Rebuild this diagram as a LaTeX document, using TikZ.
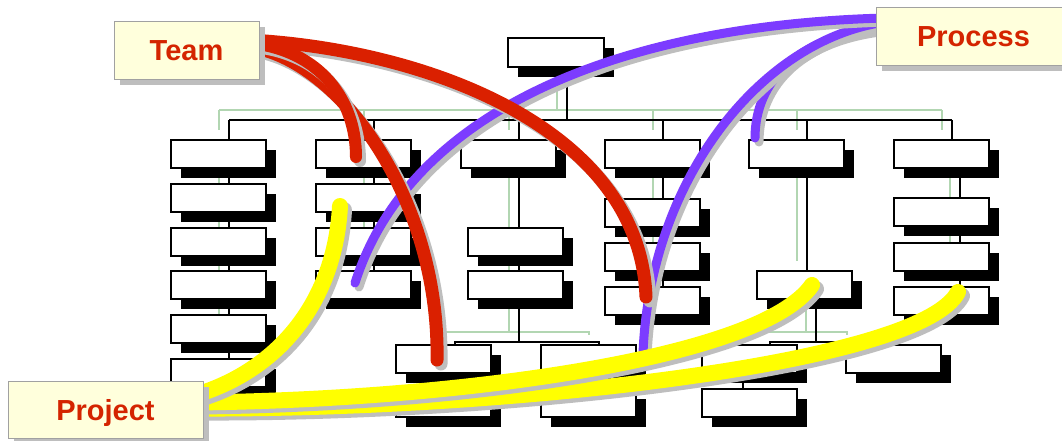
\documentclass[tikz,border=0pt]{standalone}
\usepackage{fontspec}
\setmainfont{Liberation Sans}
\usetikzlibrary{shadows}
\definecolor{tred}{RGB}{212,36,0}
\definecolor{cred}{RGB}{218,32,0}
\definecolor{cpurple}{RGB}{124,60,255}
\definecolor{cyellow}{RGB}{255,255,0}
\definecolor{cgray}{RGB}{190,190,190}
\definecolor{lgreen}{RGB}{178,214,178}
\definecolor{lbl}{RGB}{255,255,220}
\pgfdeclarelayer{bgg}
\pgfdeclarelayer{bgb}
\pgfdeclarelayer{fg}
\pgfsetlayers{bgg,bgb,main,fg}
\newcommand\tl[1]{%
  \begin{pgfonlayer}{bgg}\draw[gline, transform canvas={shift={(-10pt,10pt)}}] #1;\end{pgfonlayer}%
  \begin{pgfonlayer}{bgb}\draw[tline] #1;\end{pgfonlayer}}
\newcommand\wirepath[3]{%
  \draw[wire=#2, cgray, transform canvas={shift={(4pt,-4pt)}}] #3;
  \draw[wire=#2, #1] #3;}
\begin{document}
\begin{tikzpicture}[x=1pt,y=-1pt,
  orgbox/.style={draw=black, line width=1.4pt, fill=white, minimum width=95pt,
    minimum height=28pt, anchor=north west, inner sep=0pt, outer sep=0pt,
    general shadow={fill=black, shadow xshift=10pt, shadow yshift=-10pt}},
  tag/.style={draw=cgray!85!black, line width=0.8pt, fill=lbl, minimum height=58pt,
    inner sep=0pt, outer sep=0pt, text=tred, font=\bfseries\fontsize{29}{30}\selectfont,
    text height=21pt, text depth=0pt,
    general shadow={fill=cgray, shadow xshift=6pt, shadow yshift=-6pt}},
  tline/.style={line width=1.4pt, black},
  gline/.style={line width=1.1pt, lgreen},
  wire/.style={line cap=round, line width=#1},
]
\useasboundingbox (0,0) rectangle (1062,441);
\clip (0,0) rectangle (1062,441);

% ---- org chart boxes ----
\node[orgbox, minimum width=96pt, minimum height=29pt] (r) at (508,38) {};
\node[orgbox] (c1) at (171,140) {};
\node[orgbox] (c2) at (316,140) {};
\node[orgbox] (c3) at (461,140) {};
\node[orgbox] (c4) at (605,140) {};
\node[orgbox] (c5) at (749,140) {};
\node[orgbox] (c6) at (894,140) {};
% column 1
\node[orgbox] (c1b) at (171,184) {};
\node[orgbox] (c1c) at (171,228) {};
\node[orgbox] (c1d) at (171,271) {};
\node[orgbox] (c1e) at (171,315) {};
\node[orgbox] (c1f) at (171,359) {};
% column 2
\node[orgbox] (c2b) at (316,184) {};
\node[orgbox] (c2c) at (316,228) {};
\node[orgbox] (c2d) at (316,271) {};
% column 3
\node[orgbox] (c3b) at (468,228) {};
\node[orgbox] (c3c) at (468,271) {};
\node[orgbox] (b3a) at (396,345) {};
\node[orgbox] (b3b) at (541,345) {};
\node[orgbox] (b3c) at (396,389) {};
\node[orgbox] (b3d) at (541,389) {};
% column 4
\node[orgbox] (c4b) at (605,199) {};
\node[orgbox] (c4c) at (605,243) {};
\node[orgbox] (c4d) at (605,287) {};
% column 5
\node[orgbox] (c5a) at (757,271) {};
\node[orgbox] (b5a) at (702,345) {};
\node[orgbox] (b5b) at (702,389) {};
\node[orgbox] (b5c) at (846,345) {};
% column 6
\node[orgbox] (c6b) at (894,198) {};
\node[orgbox] (c6c) at (894,243) {};
\node[orgbox] (c6d) at (894,287) {};

% ---- tree lines ----
\tl{([xshift=59pt]r.south west) -- ([xshift=59pt]r.south west |- 0,120)}
\tl{([xshift=58pt,yshift=20pt]c1.north west) -- ([xshift=58pt,yshift=20pt]c6.north west)}
\foreach \c in {c1,c2,c3,c4,c5,c6}{
  \tl{([xshift=58pt,yshift=20pt]\c.north west) -- ([xshift=58pt]\c.north west)}
}
\tl{([xshift=58pt]c1.south west) -- ([xshift=58pt]c1f.north west)}
\tl{([xshift=58pt]c2.south west) -- ([xshift=58pt]c2d.north west)}
\tl{([xshift=58pt]c3.south west) -- ([xshift=58pt,yshift=3pt]c3.south west |- b3a.north)}
\tl{([xshift=59pt]b3a.north west) -- ([xshift=59pt,yshift=3pt]b3a.north west) -- ([xshift=58pt,yshift=3pt]b3b.north west) -- ([xshift=58pt]b3b.north west)}
\tl{([xshift=59pt]b3a.south west) -- ([xshift=59pt]b3c.north west)}
\tl{([xshift=58pt]b3b.south west) -- ([xshift=58pt]b3d.north west)}
\tl{([xshift=58pt]c4.south west) -- ([xshift=58pt]c4d.north west)}
\tl{([xshift=58pt]c5.south west) -- ([xshift=58pt]c5a.north west -| c5.south west)}
\tl{([xshift=59pt]c5a.south west) -- ([xshift=59pt,yshift=3pt]c5a.south west |- b5a.north)}
\tl{([xshift=68pt]b5a.north west) -- ([xshift=68pt,yshift=3pt]b5a.north west) -- ([xshift=11pt,yshift=3pt]b5c.north west) -- ([xshift=11pt]b5c.north west)}
\tl{([xshift=41pt]b5a.south west) -- ([xshift=41pt]b5b.north west)}
\tl{([xshift=66pt]c6.south west) -- ([xshift=66pt]c6d.north west)}

% ---- labels ----
\begin{pgfonlayer}{fg}
\clip (0,0) rectangle (1062,441);
\node[tag, minimum width=145pt] (team) at (186.5,50) {Team};
\node[tag, minimum width=195pt] (process) at (973.5,36) {Process};
\node[tag, minimum width=195pt, minimum height=57pt] (project) at (105.5,409.5) {Project};
\end{pgfonlayer}

% ---- link end points ----
\coordinate (tC) at ([xshift=-9pt,yshift=10pt]team.east);
\coordinate (tA) at ([xshift=-9pt,yshift=7pt]team.east);
\coordinate (tB) at ([xshift=-9pt,yshift=3pt]team.east);
\coordinate (eC) at (646,297);
\coordinate (eA) at (356,157);
\coordinate (eB) at (437,360);
\coordinate (pP) at ([xshift=9pt,yshift=18pt]process.west);
\coordinate (pQ) at ([xshift=9pt,yshift=14pt]process.west);
\coordinate (pR) at ([xshift=9pt,yshift=9pt]process.west);
\coordinate (eP) at (355,283);
\coordinate (eQ) at (643,353);
\coordinate (eR) at (755,138);
\coordinate (jS) at ([xshift=-9pt,yshift=14pt]project.east);
\coordinate (jT) at ([xshift=-9pt,yshift=7pt]project.east);
\coordinate (jU) at ([xshift=-9pt,yshift=1pt]project.east);
\coordinate (eS) at (340,206);
\coordinate (eT) at (812,285);
\coordinate (eU) at (958,292);

% ---- purple links (Process) ----
\wirepath{cpurple}{9pt}{(pR) .. controls (800,35) and (755,80) .. (eR)}
\wirepath{cpurple}{9pt}{(pQ) .. controls (760,40) and (650,180) .. (eQ)}
\wirepath{cpurple}{9pt}{(pP) .. controls (620,25) and (410,110) .. (eP)}
% ---- red links (Team) ----
\wirepath{cred}{13pt}{(tC) .. controls (430,50) and (640,130) .. (eC)}
\wirepath{cred}{13pt}{(tB) .. controls (340,60) and (440,200) .. (eB)}
\wirepath{cred}{12pt}{(tA) .. controls (320,50) and (356,100) .. (eA)}
% ---- yellow links (Project) ----
\wirepath{cyellow}{16pt}{(jU) .. controls (500,410) and (920,365) .. (eU)}
\wirepath{cyellow}{16pt}{(jT) .. controls (450,400) and (760,360) .. (eT)}
\wirepath{cyellow}{16pt}{(jS) .. controls (280,370) and (335,300) .. (eS)}
\end{tikzpicture}
\end{document}
